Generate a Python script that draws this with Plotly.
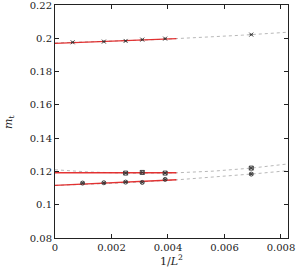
import numpy as np
import plotly.graph_objects as go

# data points (1/L^2, m_t)
x_top = [0.000625, 0.00173, 0.0025, 0.00309, 0.0039, 0.00695]
y_top = [0.1976, 0.1980, 0.1984, 0.1992, 0.1998, 0.2022]
x_mid = [0.0025, 0.00309, 0.0039, 0.00695]
y_mid = [0.1190, 0.1194, 0.1190, 0.1220]
x_bot = [0.000977, 0.00173, 0.0025, 0.00309, 0.0039, 0.00695]
y_bot = [0.1130, 0.1132, 0.1136, 0.1134, 0.1152, 0.1184]
err = 0.0002

# fit parameters: linear (red) a + b x ; quadratic (grey) a + b x + c x^2
lin_top = [0.1970, 0.651]
lin_mid = [0.1192, 0.0]
lin_bot = [0.1116, 0.79]
quad_top = [0.1972, 0.380, 48.8]
quad_mid = [0.1210, -1.361, 216.6]
quad_bot = [0.1116, 0.4516, 75.8]

xl = np.linspace(0, 0.0043, 50)
xq = np.linspace(0, 0.0082, 200)

fig = go.Figure()
for q in [quad_top, quad_mid, quad_bot]:
    fig.add_trace(go.Scatter(x=xq, y=q[0] + q[1]*xq + q[2]*xq**2, mode="lines",
                             line=dict(color="#b8b8b8", width=1, dash="dot"),
                             showlegend=False, hoverinfo="skip"))
for l in [lin_top, lin_mid, lin_bot]:
    fig.add_trace(go.Scatter(x=xl, y=l[0] + l[1]*xl, mode="lines",
                             line=dict(color="rgba(225,30,30,0.9)", width=1.3),
                             showlegend=False, hoverinfo="skip"))
for xs, ys, sym in [(x_top, y_top, "x-thin-open"), (x_mid, y_mid, "square-x-open"),
                    (x_bot, y_bot, "circle-x-open")]:
    fig.add_trace(go.Scatter(x=xs, y=ys, mode="markers",
                             marker=dict(symbol=sym, size=4, color="#333333",
                                         line=dict(color="#333333", width=0.9)),
                             error_y=dict(type="constant", value=err, color="#333333",
                                          thickness=0.7, width=1.5),
                             showlegend=False))

font = dict(family="DejaVu Serif", size=10, color="#222222")
fig.update_layout(
    width=306, height=273,
    margin=dict(l=55, r=18, t=5, b=35, autoexpand=False),
    plot_bgcolor="white", paper_bgcolor="white",
    font=font,
    xaxis=dict(range=[0, 0.00825], tickvals=[0, 0.002, 0.004, 0.006, 0.008],
               ticktext=["0", "0.002", "0.004", "0.006", "0.008"],
               ticks="inside", ticklen=4, tickcolor="#222", mirror="ticks",
               showline=True, linecolor="#222", linewidth=1, showgrid=False,
               zeroline=False, automargin=False, ticklabeloverflow="allow"),
    yaxis=dict(range=[0.08, 0.22], tickvals=[0.08, 0.1, 0.12, 0.14, 0.16, 0.18, 0.2, 0.22],
               ticktext=["0.08", "0.1", "0.12", "0.14", "0.16", "0.18", "0.2", "0.22"],
               ticks="inside", ticklen=4, tickcolor="#222", mirror="ticks",
               showline=True, linecolor="#222", linewidth=1, showgrid=False,
               zeroline=False, automargin=False, ticklabeloverflow="allow"),
    annotations=[
        dict(text="1/<i>L</i><sup>2</sup>", x=0.5, y=-0.095, xref="paper", yref="paper",
             xanchor="center", yanchor="middle", showarrow=False, font=dict(size=11)),
        dict(text="<i>m</i><sub>t</sub>", x=-0.2, y=0.5, xref="paper", yref="paper",
             xanchor="center", yanchor="middle", textangle=-90, showarrow=False,
             font=dict(size=11)),
    ],
)
fig.write_html("out.html", config={"displayModeBar": False},
               post_script="document.body.style.margin='0';")
